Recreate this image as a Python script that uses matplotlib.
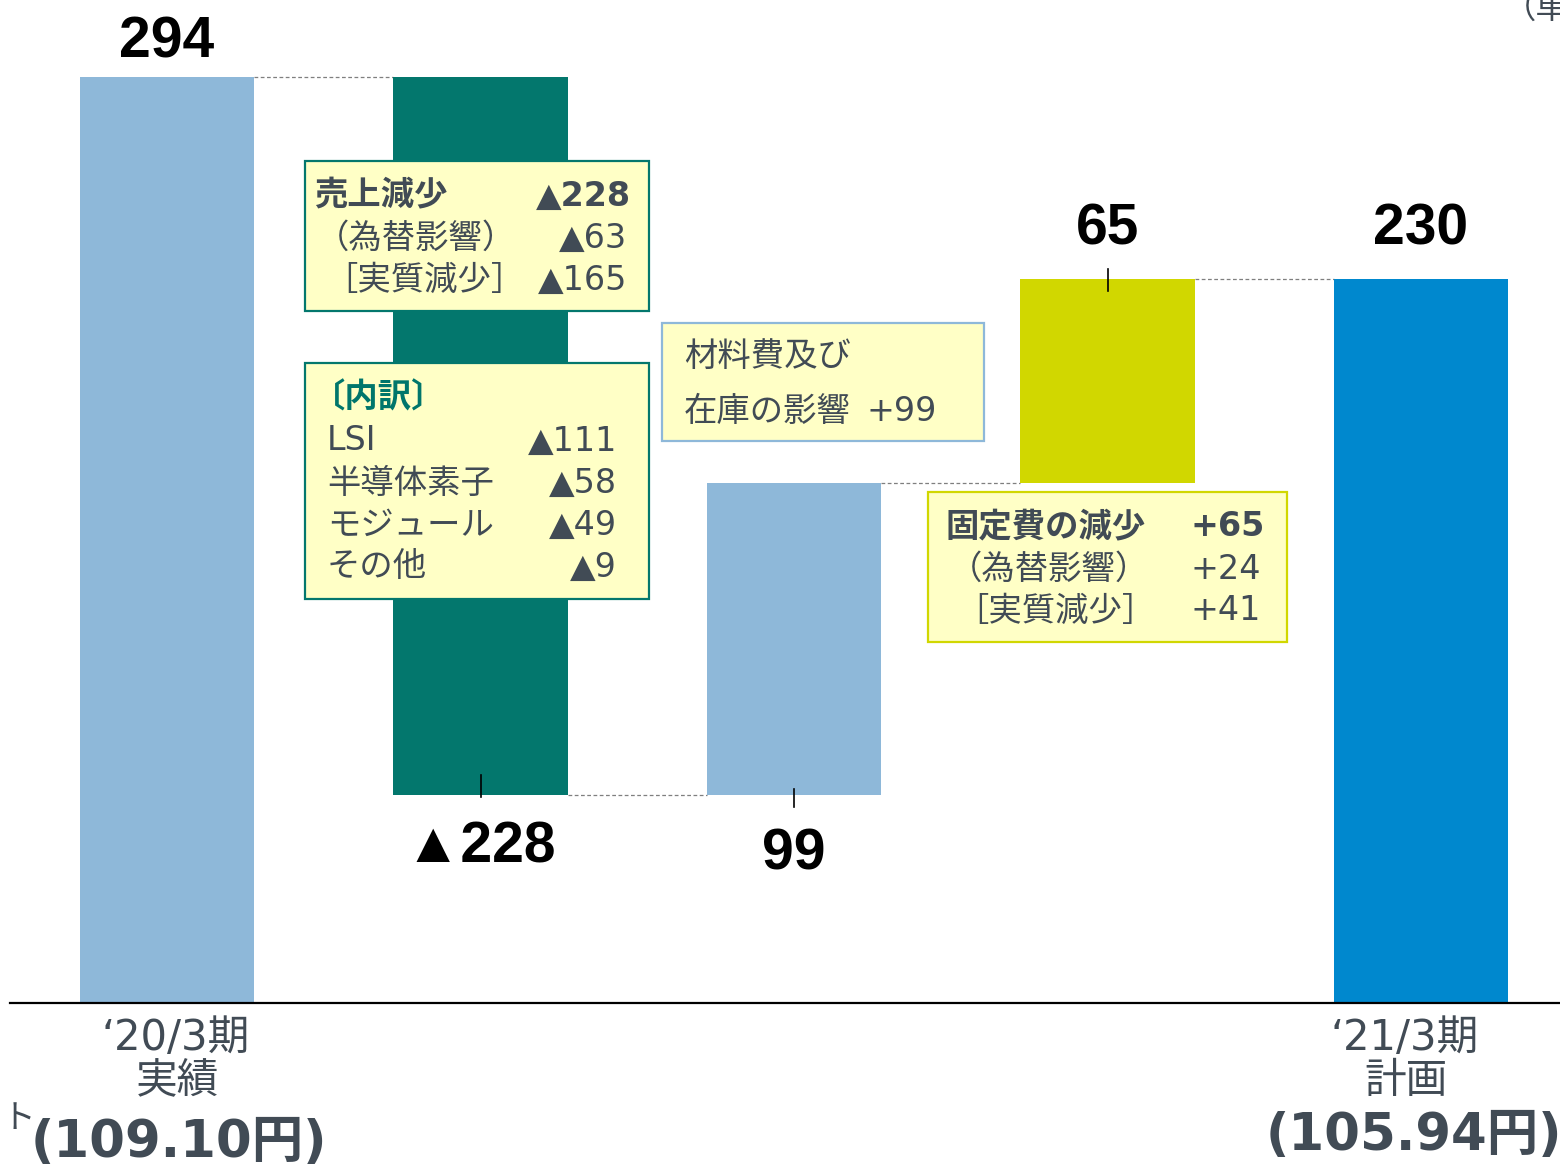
import matplotlib.pyplot as plt
from matplotlib.patches import Rectangle

# データ (億円)
steps = ["‘20/3期 実績", "売上減少", "材料費及び在庫の影響", "固定費の減少", "‘21/3期 計画"]
values = [294, -228, 99, 65, 230]
is_total = [True, False, False, False, True]
value_labels = ["294", "▲228", "99", "65", "230"]
label_below = [False, True, True, False, False]
bar_colors = ["#8EB8D9", "#03776D", "#8EB8D9", "#D1D700", "#0088CE"]

W, H = 1560, 1165
TXT = "#414B55"
JP = ["DejaVu Sans", "Noto Sans CJK JP"]
NUM = ["Liberation Sans", "DejaVu Sans"]


def px(x, y):
    # 参照画像のピクセル位置 -> figure座標
    return x / W, 1 - y / H


fig = plt.figure(figsize=(15.6, 11.65), dpi=100)
ax = fig.add_axes([10 / W, (H - 1003) / H, 1550 / W, 1003 / H])
scale = (1003 - 77) / 294.0
ax.set_xlim((10 - 167) / 313.5, (1560 - 167) / 313.5)
ax.set_ylim(0, 1003 / scale)

# ウォーターフォールの計算
bottoms, tops = [], []
level = 0
for v, tot in zip(values, is_total):
    if tot:
        b, t = 0, v
        level = v
    else:
        new = level + v
        b, t = min(level, new), max(level, new)
        level = new
    bottoms.append(b)
    tops.append(t)

width = 0.558
xs = list(range(len(values)))
ax.bar(xs, [t - b for t, b in zip(tops, bottoms)], bottom=bottoms,
       width=width, color=bar_colors, zorder=2)

# 接続の破線
for i in range(len(values) - 1):
    lvl = tops[i] if (is_total[i] or values[i] > 0) else bottoms[i]
    ax.plot([i + width / 2, i + 1 - width / 2], [lvl, lvl], color="#7F7F7F",
            lw=0.9, ls=(0, (3, 2)), zorder=1)

# 値ラベルと引き出し線
for i, v in enumerate(values):
    if label_below[i]:
        y = bottoms[i]
        off = -52 if v < 0 else -59
        if v < 0:
            ax.plot([i, i], [y - 2 / scale, y + 20 / scale], color="black", lw=1.2, zorder=3)
        else:
            ax.plot([i, i], [y - 12 / scale, y + 6 / scale], color="black", lw=1.2, zorder=3)
    else:
        y = tops[i]
        off = 35 if i == 0 else 49
        if not is_total[i]:
            ax.plot([i, i], [y - 12 / scale, y + 10 / scale], color="black", lw=1.2, zorder=3)
    ax.annotate(value_labels[i], (i, y), xytext=(0, off * 0.72), textcoords="offset points",
                ha="center", va="center", fontsize=41, fontweight="bold",
                family=NUM, color="black", annotation_clip=False)

for s in ["top", "right", "left"]:
    ax.spines[s].set_visible(False)
ax.spines["bottom"].set_color("black")
ax.spines["bottom"].set_linewidth(1.6)
ax.set_xticks([])
ax.set_yticks([])


def box(x0, y0, x1, y1, edge):
    fx0, fy1 = px(x0, y1)
    fx1, fy0 = px(x1, y0)
    fig.patches.append(Rectangle((fx0, fy1), fx1 - fx0, fy0 - fy1, transform=fig.transFigure,
                                 facecolor="#FFFFC6", edgecolor=edge, lw=1.6, zorder=5))


def t(x, y, s, ha="left", bold=False, size=24, color=TXT, fam=JP):
    fig.text(*px(x, y), s, ha=ha, va="center", fontsize=size,
             fontweight="bold" if bold else "normal", family=fam, color=color, zorder=6)


# 売上減少ボックス
box(305, 161, 649, 311, "#03776D")
t(314, 196, "売上減少", bold=True)
t(631, 196, "▲228", ha="right", bold=True)
t(316, 238, "（為替影響）")
t(627, 238, "▲63", ha="right")
t(324, 280, "［実質減少］")
t(627, 280, "▲165", ha="right")

# 内訳ボックス
box(305, 363, 649, 599, "#03776D")
t(312, 398, "〔内訳〕", bold=True, color="#00766B")
rows = [("LSI", "▲111"), ("半導体素子", "▲58"), ("モジュール", "▲49"), ("その他", "▲9")]
for k, (a, b) in enumerate(rows):
    t(327, 441 + 42 * k, a)
    t(617, 441 + 42 * k, b, ha="right")

# 材料費ボックス
box(662, 323, 984, 441, "#8EB8D9")
t(684, 356, "材料費及び")
t(684, 411, "在庫の影響")
t(866, 411, "+99")

# 固定費ボックス
box(928, 492, 1287, 642, "#D1D700")
t(946, 527, "固定費の減少", bold=True)
t(1190, 527, "+65", bold=True)
t(949, 569, "（為替影響）")
t(1190, 569, "+24")
t(955, 611, "［実質減少］")
t(1190, 611, "+41")

# 軸ラベル
t(176, 1038, "‘20/3期", ha="center", size=30)
t(177, 1081, "実績", ha="center", size=30)
t(179, 1143, "(109.10円)", ha="center", size=37, bold=True)
t(1405, 1038, "‘21/3期", ha="center", size=30)
t(1406, 1081, "計画", ha="center", size=30)
t(1266, 1136, "(105.94円)", size=37, bold=True)
t(36, 1118, "為替レート", ha="right", size=24)
t(1503, 8, "（単位：億円）", size=24)

fig.savefig("out.png", dpi=100)
